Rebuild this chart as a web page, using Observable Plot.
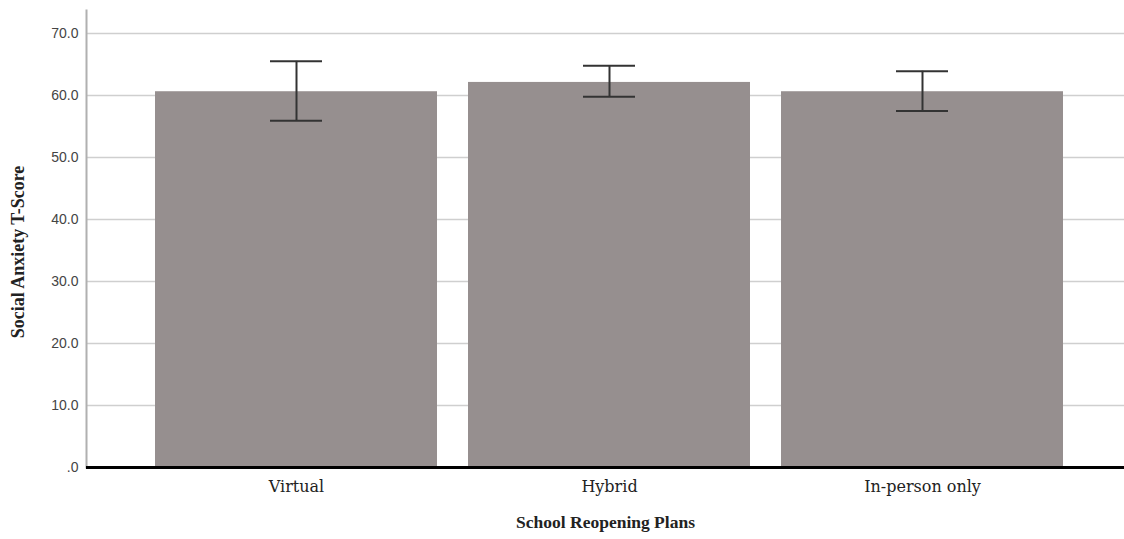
<!DOCTYPE html>
<html>
<head>
<meta charset="utf-8">
<script src="https://cdn.jsdelivr.net/npm/d3@7"></script>
<script src="https://cdn.jsdelivr.net/npm/@observablehq/plot@0.6"></script>
<style>
  html, body { margin: 0; padding: 0; background: #fff; }
  #chart svg { display: block; }
</style>
</head>
<body>
<div id="chart"></div>
<script>
const categories = ["Virtual", "Hybrid", "In-person only"];
const means = [60.6, 62.1, 60.6];
const upper = [65.5, 64.8, 63.9];
const lower = [55.9, 59.8, 57.5];
const yTicks = [0, 10, 20, 30, 40, 50, 60, 70];

const data = categories.map((c, i) => ({cat: c, mean: means[i], hi: upper[i], lo: lower[i]}));

const chart = Plot.plot({
  width: 1124,
  height: 539,
  marginLeft: 86,
  marginRight: 0,
  marginTop: 10,
  marginBottom: 72,
  style: {background: "#fff", overflow: "visible"},
  x: {domain: categories, range: [154, 1063], paddingInner: 0.1, paddingOuter: 0},
  y: {domain: [0, 73.7]},
  marks: [
    Plot.ruleY(yTicks.filter(d => d > 0), {stroke: "#cfcfcf", strokeWidth: 1.5}),
    Plot.barY(data, {x: "cat", y: "mean", fill: "#968f8f"}),
    Plot.ruleX(data, {x: "cat", y1: "lo", y2: "hi", stroke: "#333", strokeWidth: 2}),
    Plot.tickY(data, {x: "cat", y: "hi", stroke: "#333", strokeWidth: 2, insetLeft: 115, insetRight: 115}),
    Plot.tickY(data, {x: "cat", y: "lo", stroke: "#333", strokeWidth: 2, insetLeft: 115, insetRight: 115}),
    Plot.frame({anchor: "left", stroke: "#b0b0b0", strokeWidth: 2}),
    Plot.ruleY([0], {stroke: "#000", strokeWidth: 3}),
    Plot.axisY({
      ticks: yTicks,
      tickSize: 0,
      tickPadding: 8,
      tickFormat: d => d === 0 ? ".0" : d.toFixed(1),
      fontSize: 14,
      fontFamily: "Liberation Sans, Arial, sans-serif",
      fill: "#444",
      label: null
    }),
    Plot.axisX({
      tickSize: 0,
      tickPadding: 13,
      fontSize: 16,
      fontFamily: "DejaVu Serif, serif",
      fill: "#222",
      label: null
    }),
    Plot.text(["School Reopening Plans"], {
      frameAnchor: "bottom",
      dy: 60,
      fontSize: 17.5,
      fontWeight: "bold",
      fontFamily: "Liberation Serif, Times New Roman, serif",
      fill: "#222"
    }),
    Plot.text(["Social Anxiety T-Score"], {
      frameAnchor: "left",
      textAnchor: "middle",
      dx: -68,
      dy: 13,
      rotate: -90,
      fontSize: 18,
      fontWeight: "bold",
      fontFamily: "Liberation Serif, Times New Roman, serif",
      fill: "#222"
    })
  ]
});
document.getElementById("chart").appendChild(chart);
</script>
</body>
</html>
